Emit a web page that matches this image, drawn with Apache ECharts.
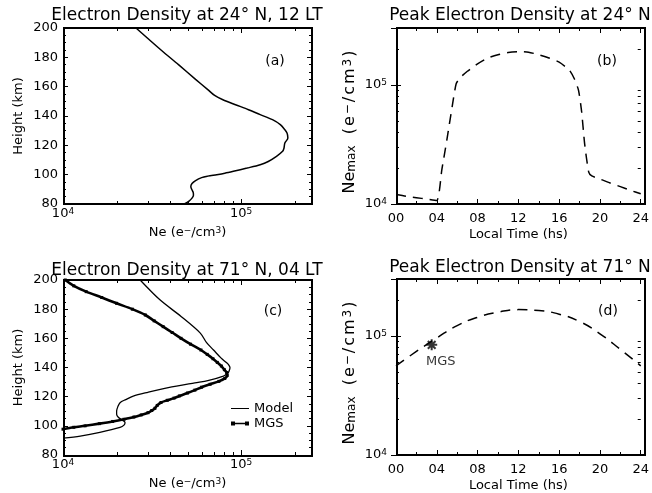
<!DOCTYPE html>
<html>
<head>
<meta charset="utf-8">
<script src="https://cdn.jsdelivr.net/npm/echarts@6/dist/echarts.min.js"></script>
<style>
  html, body { margin: 0; padding: 0; background: #fff; }
  #chart { width: 652px; height: 493px; }
</style>
</head>
<body>
<div id="chart"></div>
<script>
// ---- data ----
// (a) electron density profile, 24N 12LT
const heightA = [80, 82, 84, 86, 88, 90, 92, 94, 96, 98, 99, 100, 101, 102.3, 104.5, 106.8, 109, 112.5, 115.9, 118, 121.6, 125, 128.4, 131, 134.1, 137.5, 140.9, 144.3, 147.7, 151.1, 154, 158, 165, 175, 185, 200];
const neA = [4.8e4, 5.1e4, 5.3e4, 5.4e4, 5.38e4, 5.28e4, 5.22e4, 5.3e4, 5.55e4, 6.0e4, 6.5e4, 7.3e4, 8.1e4, 9.05e4, 1.08e5, 1.28e5, 1.42e5, 1.58e5, 1.71e5, 1.74e5, 1.76e5, 1.83e5, 1.81e5, 1.75e5, 1.66e5, 1.5e5, 1.28e5, 1.1e5, 9.3e4, 7.9e4, 7.1e4, 6.5e4, 5.55e4, 4.45e4, 3.55e4, 2.57e4];

// (b) peak density vs local time, 24N
const hoursB = [0, 1, 2, 3, 4, 4.5, 5, 5.5, 5.9, 6.3, 7, 8, 9, 10, 11, 12, 13, 14, 15, 16, 17, 17.5, 17.9, 18.2, 18.5, 18.9, 19.2, 20, 21, 22, 23, 24];
const peakB = [1.2e4, 1.16e4, 1.13e4, 1.1e4, 1.07e4, 1.95e4, 3.5e4, 6.5e4, 1.02e5, 1.15e5, 1.3e5, 1.5e5, 1.68e5, 1.79e5, 1.87e5, 1.9e5, 1.88e5, 1.79e5, 1.68e5, 1.55e5, 1.33e5, 1.12e5, 9.0e4, 6.0e4, 3.2e4, 1.85e4, 1.72e4, 1.62e4, 1.5e4, 1.4e4, 1.3e4, 1.22e4];

// (c) 71N 04LT: model and MGS profiles
const heightCModel = [91.6, 93, 95.5, 98.9, 100.5, 102.3, 104, 105.7, 108, 110.2, 113, 115.9, 118, 120.4, 123, 126.2, 129.5, 131, 134.1, 136, 137.5, 139.8, 141.5, 143.2, 146.6, 152, 157, 163.6, 175, 186.4, 200];
const neCModel = [1.0e4, 1.25e4, 1.61e4, 2.09e4, 2.2e4, 2.23e4, 2.15e4, 2.05e4, 2.0e4, 2.0e4, 2.03e4, 2.09e4, 2.25e4, 2.48e4, 3.0e4, 3.9e4, 5.5e4, 6.5e4, 7.95e4, 8.4e4, 8.55e4, 8.66e4, 8.55e4, 8.3e4, 7.7e4, 7.0e4, 6.4e4, 5.9e4, 4.6e4, 3.5e4, 2.71e4];
const heightCMgs = [97.7, 99, 100, 101.5, 103, 104.5, 106, 107.5, 109, 110.5, 112, 114, 116, 117.5, 119, 120.5, 122.5, 124.5, 126.5, 128.5, 130.5, 132.5, 134.5, 136.5, 138.5, 141, 143.5, 146, 149, 152, 156, 160, 164, 168, 172, 176, 180, 184, 188, 192, 196, 200];
const neCMgs = [1.0e4, 1.15e4, 1.33e4, 1.6e4, 1.9e4, 2.2e4, 2.5e4, 2.75e4, 3.0e4, 3.15e4, 3.28e4, 3.38e4, 3.55e4, 3.85e4, 4.2e4, 4.5e4, 5.0e4, 5.5e4, 6.0e4, 6.7e4, 7.5e4, 8.1e4, 8.35e4, 8.3e4, 8.05e4, 7.75e4, 7.35e4, 6.95e4, 6.45e4, 5.95e4, 5.2e4, 4.6e4, 4.1e4, 3.65e4, 3.25e4, 2.9e4, 2.45e4, 2.0e4, 1.65e4, 1.35e4, 1.15e4, 1.03e4];

// (d) peak density vs local time, 71N, plus the MGS measurement
const hoursD = [0, 2, 4, 6, 8, 10, 12, 14, 16, 18, 20, 22, 24];
const peakD = [5.6e4, 7.4e4, 9.6e4, 1.22e5, 1.43e5, 1.58e5, 1.66e5, 1.63e5, 1.52e5, 1.32e5, 1.04e5, 7.7e4, 5.6e4];
const mgsPeak = [3.5, 8.4e4];

// axis ranges and log minor ticks
const neRange = [1e4, 2.5e5];
const heightRange = [80, 200];
const hourRange = [0, 24];
const peakRange = [1e4, 3e5];
const neMinor = [2e4, 3e4, 4e4, 5e4, 6e4, 7e4, 8e4, 9e4, 2e5];
const peakMinor = [2e4, 3e4, 4e4, 5e4, 6e4, 7e4, 8e4, 9e4, 2e5];

const titles = ['Electron Density at 24° N, 12 LT', 'Peak Electron Density at 24° N',
                'Electron Density at 71° N, 04 LT', 'Peak Electron Density at 71° N'];
const panelTags = ['(a)', '(b)', '(c)', '(d)'];

// ---- helpers ----
const black = '#000';
const font = 'DejaVu Sans';
const zip = (xs, ys) => xs.map((x, i) => [x, ys[i]]);

const supRich = {
  b: { fontSize: 13, fontFamily: font, color: black, lineHeight: 13, verticalAlign: 'bottom' },
  s: { fontSize: 9, fontFamily: font, color: black, lineHeight: 9, padding: [0, 0, 8, 0], verticalAlign: 'top' }
};
function logLabel(v) {
  const e = Math.log10(v);
  if (Math.abs(e - Math.round(e)) > 1e-6) return '';
  return '{b|10}{s|' + Math.round(e) + '}';
}

const noLine = { show: false };
const major = { show: true, inside: true, length: 5, lineStyle: { color: black } };
function unitRich(size, sup, pad, tail) {
  return {
    n: { fontSize: size, fontFamily: font, color: black, lineHeight: size, verticalAlign: 'bottom', padding: [0, pad, 0, pad] },
    u: { fontSize: sup, fontFamily: font, color: black, lineHeight: sup, padding: [0, pad, Math.round(size * 0.45), pad], verticalAlign: 'top' },
    m: { fontSize: sup, fontFamily: font, color: black, lineHeight: sup, padding: [Math.round(size * 0.55), 0, 0, 0], verticalAlign: 'bottom' },
    g: { fontSize: size, fontFamily: font, color: black, lineHeight: size, verticalAlign: 'bottom' },
    t: { fontSize: size, fontFamily: font, color: black, lineHeight: size, verticalAlign: 'bottom', padding: [0, tail, 0, pad] }
  };
}
const nameStyle = { fontSize: 13, fontFamily: font, color: black };

function neAxis(g, mirror) {
  return {
    type: 'log', logBase: 10, gridIndex: g, min: neRange[0], max: neRange[1],
    position: mirror ? 'top' : 'bottom',
    axisLine: noLine, axisTick: major, splitLine: { show: false },
    axisLabel: mirror ? { show: false } : { margin: 3, formatter: logLabel, rich: supRich, showMaxLabel: false },
    name: mirror ? '' : '{g|Ne (e}{u|−}{g|/cm}{u|3}{g|)}', nameLocation: 'middle', nameGap: 22,
    nameTextStyle: { ...nameStyle, rich: unitRich(13, 9, 0, 0) }
  };
}
function hourAxis(g, mirror) {
  return {
    type: 'value', gridIndex: g, min: hourRange[0], max: hourRange[1], interval: 4,
    position: mirror ? 'top' : 'bottom',
    axisLine: noLine, axisTick: major,
    minorTick: { show: true, splitNumber: 2, length: 3, lineStyle: { color: black } },
    splitLine: { show: false },
    axisLabel: mirror ? { show: false } : {
      margin: 8, color: black, fontSize: 13, fontFamily: font,
      formatter: v => String(v).padStart(2, '0')
    },
    name: mirror ? '' : 'Local Time (hs)', nameLocation: 'middle', nameGap: 24, nameTextStyle: nameStyle
  };
}
function heightAxis(g, mirror) {
  return {
    type: 'value', gridIndex: g, min: heightRange[0], max: heightRange[1], interval: 20,
    position: mirror ? 'right' : 'left',
    axisLine: noLine, axisTick: major,
    minorTick: { show: true, splitNumber: 4, length: 3, lineStyle: { color: black } },
    splitLine: { show: false },
    axisLabel: mirror ? { show: false } : { margin: 5, color: black, fontSize: 13, fontFamily: font },
    name: mirror ? '' : 'Height (km)', nameLocation: 'middle', nameGap: 38, nameRotate: 90, nameTextStyle: nameStyle
  };
}
function peakAxis(g, mirror) {
  return {
    type: 'log', logBase: 10, gridIndex: g, min: peakRange[0], max: peakRange[1],
    position: mirror ? 'right' : 'left',
    axisLine: noLine, axisTick: major, splitLine: { show: false },
    axisLabel: mirror ? { show: false } : { margin: 9, formatter: logLabel, rich: supRich, showMaxLabel: false },
    name: mirror ? '' : '{g|Ne}{m|max}{g|  }{n|(}{n|e}{u|−}{n|/}{n|c}{n|m}{u|3}{t|)}',
    nameLocation: 'middle', nameGap: 33, nameRotate: 90,
    nameTextStyle: { ...nameStyle, rich: unitRich(16, 12, 1, 12) }
  };
}

// short minor ticks on log axes, placed through the axis scale
function logMinorTicks(xi, yi, values, onX, other) {
  return {
    type: 'custom', xAxisIndex: xi, yAxisIndex: yi, silent: true, clip: false, z: 5,
    data: values.map(v => onX ? [v, other] : [other, v]),
    renderItem(params, api) {
      const cs = params.coordSys;
      const p = api.coord([api.value(0), api.value(1)]);
      const s = { stroke: black, lineWidth: 1 };
      if (onX) {
        const x = Math.round(p[0]) + 0.5;
        const b = cs.y + cs.height;
        return { type: 'group', children: [
          { type: 'line', shape: { x1: x, y1: b, x2: x, y2: b - 3 }, style: { ...s } },
          { type: 'line', shape: { x1: x, y1: cs.y, x2: x, y2: cs.y + 3 }, style: { ...s } }
        ] };
      }
      const y = Math.round(p[1]) + 0.5;
      const r = cs.x + cs.width;
      return { type: 'group', children: [
        { type: 'line', shape: { x1: cs.x, y1: y, x2: cs.x + 3, y2: y }, style: { ...s } },
        { type: 'line', shape: { x1: r, y1: y, x2: r - 3, y2: y }, style: { ...s } }
      ] };
    }
  };
}

const gridPos = [
  { left: 63, top: 28, width: 249, height: 176 },
  { left: 396, top: 28, width: 249, height: 176 },
  { left: 63, top: 280, width: 249, height: 176 },
  { left: 396, top: 279, width: 249, height: 176 }
];
const titleCenters = [[187, 7], [520, 7], [187, 262], [520, 259]];
const tagCenters = [[275, 54], [607, 54], [273, 304], [608, 304]];

// plot frames (2px, like the original's axis box), drawn on top
const frames = gridPos.map(g => ({
  type: 'rect', z: 100, silent: true,
  shape: { x: g.left + 1, y: g.top, width: g.width - 1, height: g.height },
  style: { fill: null, stroke: black, lineWidth: 2 }
}));

const chart = echarts.init(document.getElementById('chart'));
chart.setOption({
  animation: false,
  textStyle: { fontFamily: font, color: black },
  title: titles.map((t, i) => ({
    text: t, left: titleCenters[i][0], top: titleCenters[i][1], textAlign: 'center', padding: 0,
    textStyle: { fontSize: 17, fontWeight: 'normal', fontFamily: font, color: black }
  })).concat(panelTags.map((t, i) => ({
    text: t, left: tagCenters[i][0], top: tagCenters[i][1], textAlign: 'center', padding: 0,
    textStyle: { fontSize: 14, fontWeight: 'normal', fontFamily: font, color: black }
  }))),
  graphic: { elements: frames },
  legend: {
    data: [
      { name: 'Model', icon: 'path://M0,1.5h18v1h-18z' },
      { name: 'MGS', icon: 'path://M0,0h4v4h-4z M4,1.3h10v1.4h-10z M14,0h4v4h-4z' }
    ],
    orient: 'vertical', left: 231, top: 402, padding: 0,
    itemWidth: 18, itemHeight: 4, itemGap: 2,
    textStyle: { fontSize: 13, fontFamily: font, color: black },
    selectedMode: false
  },
  grid: gridPos,
  xAxis: [neAxis(0, false), neAxis(0, true), hourAxis(1, false), hourAxis(1, true),
          neAxis(2, false), neAxis(2, true), hourAxis(3, false), hourAxis(3, true)],
  yAxis: [heightAxis(0, false), heightAxis(0, true), peakAxis(1, false), peakAxis(1, true),
          heightAxis(2, false), heightAxis(2, true), peakAxis(3, false), peakAxis(3, true)],
  series: [
    {
      name: 'Profile 24N', type: 'line', xAxisIndex: 0, yAxisIndex: 0,
      data: zip(neA, heightA), showSymbol: false, smooth: 0.3,
      lineStyle: { color: black, width: 1.5 }
    },
    {
      name: 'Peak 24N', type: 'line', xAxisIndex: 2, yAxisIndex: 2,
      data: zip(hoursB, peakB), showSymbol: false, smooth: 0.2,
      lineStyle: { color: black, width: 1.5, type: [10, 7] }
    },
    {
      name: 'Model', type: 'line', xAxisIndex: 4, yAxisIndex: 4,
      data: zip(neCModel, heightCModel), showSymbol: false, smooth: 0.3,
      color: black, lineStyle: { color: black, width: 1.3 }
    },
    {
      name: 'MGS', type: 'line', xAxisIndex: 4, yAxisIndex: 4,
      data: zip(neCMgs, heightCMgs), symbol: 'rect', symbolSize: 3, showAllSymbol: true, smooth: 0.3,
      color: black, itemStyle: { color: black }, lineStyle: { color: black, width: 2.6 }
    },
    {
      name: 'Peak 71N', type: 'line', xAxisIndex: 6, yAxisIndex: 6,
      data: zip(hoursD, peakD), showSymbol: false, smooth: true,
      lineStyle: { color: black, width: 1.5, type: [10, 7] }
    },
    {
      name: 'MGS peak', type: 'scatter', xAxisIndex: 6, yAxisIndex: 6,
      data: [mgsPeak], symbolSize: 11,
      symbol: 'path://M0,5L10,5M5,0L5,10M1.5,1.5L8.5,8.5M8.5,1.5L1.5,8.5',
      itemStyle: { color: 'none', borderColor: black, borderWidth: 2 },
      label: { show: true, formatter: 'MGS', position: 'bottom', distance: 2, offset: [9, 0],
               fontSize: 13, fontFamily: font, color: black }
    },
    logMinorTicks(0, 0, neMinor, true, 140),
    logMinorTicks(2, 2, peakMinor, false, 12),
    logMinorTicks(4, 4, neMinor, true, 140),
    logMinorTicks(6, 6, peakMinor, false, 12)
  ]
});
</script>
</body>
</html>
